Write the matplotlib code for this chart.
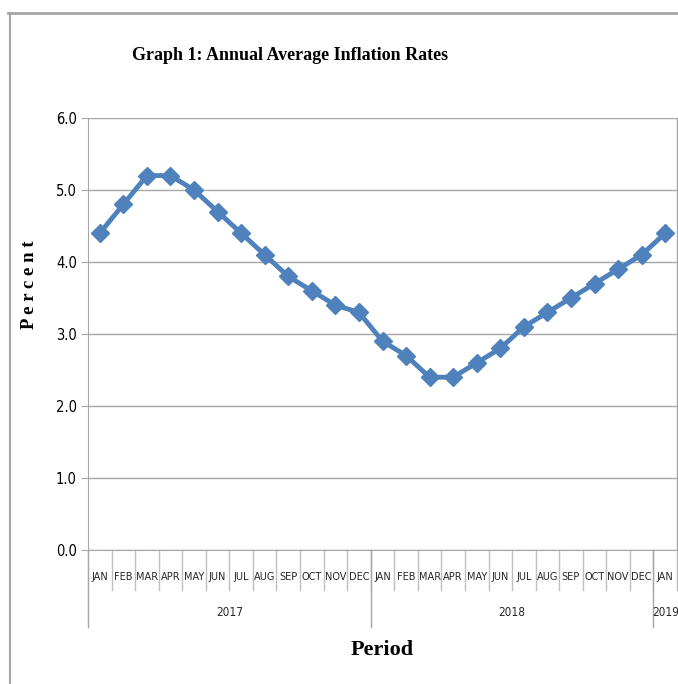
import matplotlib
matplotlib.use("Agg")
import matplotlib.pyplot as plt
from matplotlib.lines import Line2D

# data
months = ["JAN", "FEB", "MAR", "APR", "MAY", "JUN", "JUL", "AUG", "SEP", "OCT", "NOV", "DEC",
          "JAN", "FEB", "MAR", "APR", "MAY", "JUN", "JUL", "AUG", "SEP", "OCT", "NOV", "DEC",
          "JAN"]
years = ["2017", "2018", "2019"]
months_per_year = [12, 12, 1]
inflation = [4.4, 4.8, 5.2, 5.2, 5.0, 4.7, 4.4, 4.1, 3.8, 3.6, 3.4, 3.3,
             2.9, 2.7, 2.4, 2.4, 2.6, 2.8, 3.1, 3.3, 3.5, 3.7, 3.9, 4.1,
             4.4]

W, H = 678, 684
fig = plt.figure(figsize=(W / 100, H / 100), dpi=100)
ax = fig.add_axes([88 / W, 1 - 550 / H, (677 - 88) / W, (550 - 118) / H])

x = list(range(len(months)))
ax.plot(x, inflation, color="#4F81BD", lw=3.5, marker="D", markersize=9.5,
        markeredgecolor="#4F81BD", zorder=3)

ax.set_xlim(-0.5, len(months) - 0.5)
ax.set_ylim(0, 6)
ax.set_yticks([0, 1, 2, 3, 4, 5, 6])
ax.set_yticklabels([f"{v:.1f}" for v in range(7)], fontsize=10.5, fontstretch="condensed")
ax.yaxis.grid(True, color="#A6A6A6", lw=1)
ax.set_axisbelow(True)
ax.set_xticks([])
ax.tick_params(axis="y", length=5, color="#A6A6A6", pad=3)
for s in ["top", "right"]:
    ax.spines[s].set_visible(False)
ax.spines["left"].set_color("#A6A6A6")
ax.spines["bottom"].set_color("#A6A6A6")
ax.plot([len(months) - 0.5] * 2, [0, 6], color="#A6A6A6", lw=1, clip_on=False)

# category axis: month labels and separators
trans = ax.get_xaxis_transform()
y_month = -(577 - 550) / (550 - 118)
y_year = -(613 - 550) / (550 - 118)
y_short = -(590 - 550) / (550 - 118)
y_long = -(627 - 550) / (550 - 118)
for i, m in enumerate(months):
    ax.text(i, y_month, m, transform=trans, ha="center", va="center",
            fontsize=7.8, fontstretch="condensed", color="#262626")
    ax.add_line(Line2D([i + 0.5] * 2, [0, y_short], transform=trans,
                       color="#BFBFBF", lw=1, clip_on=False))
start = 0
for yr, n in zip(years, months_per_year):
    ax.add_line(Line2D([start - 0.5] * 2, [0, y_long], transform=trans,
                       color="#A6A6A6", lw=1, clip_on=False))
    ax.text(start + (n - 1) / 2, y_year, yr, transform=trans, ha="center", va="center",
            fontsize=8.5, fontstretch="condensed", color="#262626")
    start += n

# titles
fig.text(290 / W, 1 - 55 / H, "Graph 1: Annual Average Inflation Rates",
         ha="center", va="center", family="Liberation Serif", weight="bold", fontsize=13)
fig.text(382 / W, 1 - 650 / H, "Period", ha="center", va="center",
         family="Liberation Serif", weight="bold", fontsize=16)
fig.text(30 / W, 1 - 285 / H, "P e r c e n t", ha="center", va="center", rotation=90,
         family="Liberation Serif", weight="bold", fontsize=13.5)

# outer frame
fig.add_artist(Line2D([8 / W, 1], [1 - 13 / H] * 2, color="#A6A6A6", lw=2))
fig.add_artist(Line2D([10 / W] * 2, [0, 1 - 13 / H], color="#A6A6A6", lw=1.5))

fig.savefig("out.png", dpi=100)
